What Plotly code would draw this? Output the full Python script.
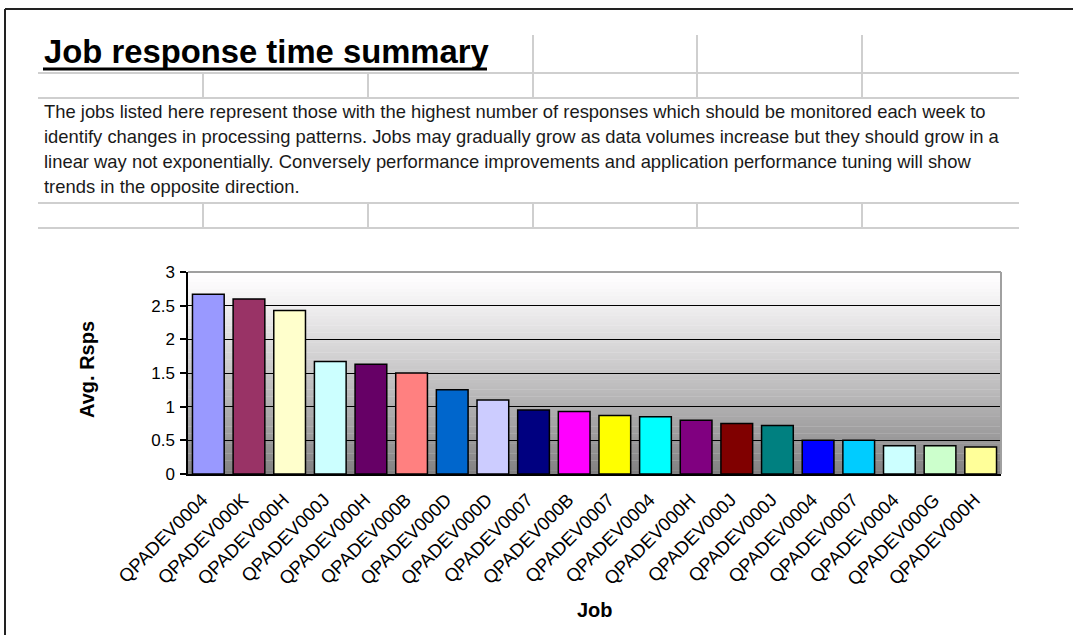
import plotly.graph_objects as go

# ---- data ----
jobs = ["QPADEV0004", "QPADEV000K", "QPADEV000H", "QPADEV000J", "QPADEV000H",
        "QPADEV000B", "QPADEV000D", "QPADEV000D", "QPADEV0007", "QPADEV000B",
        "QPADEV0007", "QPADEV0004", "QPADEV000H", "QPADEV000J", "QPADEV000J",
        "QPADEV0004", "QPADEV0007", "QPADEV0004", "QPADEV000G", "QPADEV000H"]
avg_rsps = [2.67, 2.60, 2.43, 1.67, 1.63, 1.50, 1.25, 1.10, 0.95, 0.93,
            0.87, 0.85, 0.80, 0.75, 0.72, 0.50, 0.50, 0.42, 0.42, 0.40]
bar_colors = ["#9999FF", "#993366", "#FFFFCC", "#CCFFFF", "#660066",
              "#FF8080", "#0066CC", "#CCCCFF", "#000080", "#FF00FF",
              "#FFFF00", "#00FFFF", "#800080", "#800000", "#008080",
              "#0000FF", "#00CCFF", "#CCFFFF", "#CCFFCC", "#FFFF99"]
y_ticks = [0, 0.5, 1, 1.5, 2, 2.5, 3]
y_tick_labels = ["0", "0.5", "1", "1.5", "2", "2.5", "3"]

title_text = "Job response time summary"
paragraph_lines = [
    "The jobs listed here represent those with the highest number of responses which should be monitored each week to",
    "identify changes in processing patterns. Jobs may gradually grow as data volumes increase but they should grow in a",
    "linear way not exponentially. Conversely performance improvements and application performance tuning will show",
    "trends in the opposite direction.",
]

# ---- layout geometry (pixels) ----
W, H = 1073, 635
L, R, T, B = 188, 1001, 272, 474
PW, PH = R - L, B - T


def px(x):
    return (x - L) / PW


def py(y):
    return (B - y) / PH


FONT = "Liberation Sans, Arial, sans-serif"
xs = list(range(len(jobs)))

fig = go.Figure()
fig.add_trace(go.Bar(
    x=xs, y=avg_rsps,
    marker=dict(color=bar_colors, line=dict(color="black", width=1.5)),
    width=0.78, showlegend=False, hoverinfo="x+y",
))

shapes = []
# gradient plot background
n = 60
for i in range(n):
    f0, f1 = i / n, (i + 1) / n
    t = (f0 + f1) / 2
    g = int(round(255 - 127 * (1 - t) ** 1.15))
    col = f"rgb({min(255, g + 1)},{g},{min(255, g + 1)})"
    shapes.append(dict(type="rect", xref="x domain", yref="y domain",
                       x0=0, x1=1, y0=f0, y1=f1 + 0.002, line=dict(width=0),
                       fillcolor=col, layer="below"))
# gray top/right plot border
shapes.append(dict(type="line", xref="x domain", yref="y domain", x0=0, x1=1, y0=1, y1=1,
                   line=dict(color="#a0a0a0", width=2), layer="above"))
shapes.append(dict(type="line", xref="x domain", yref="y domain", x0=1, x1=1, y0=0, y1=1,
                   line=dict(color="#a0a0a0", width=2), layer="above"))

# spreadsheet cell grid
gc = "#cfcfcf"
for yy in [73, 98, 203, 228]:
    shapes.append(dict(type="line", xref="paper", yref="paper", x0=px(38), x1=px(1019),
                       y0=py(yy), y1=py(yy), line=dict(color=gc, width=2)))
for xx in [533, 697, 862]:
    shapes.append(dict(type="line", xref="paper", yref="paper", x0=px(xx), x1=px(xx),
                       y0=py(35), y1=py(98), line=dict(color=gc, width=2)))
for xx in [203, 368]:
    shapes.append(dict(type="line", xref="paper", yref="paper", x0=px(xx), x1=px(xx),
                       y0=py(73), y1=py(98), line=dict(color=gc, width=2)))
for xx in [203, 368, 533, 697, 862]:
    shapes.append(dict(type="line", xref="paper", yref="paper", x0=px(xx), x1=px(xx),
                       y0=py(203), y1=py(228), line=dict(color=gc, width=2)))
# outer page border
shapes.append(dict(type="line", xref="paper", yref="paper", x0=px(5), x1=px(1073),
                   y0=py(9), y1=py(9), line=dict(color="#222", width=2)))
shapes.append(dict(type="line", xref="paper", yref="paper", x0=px(5), x1=px(5),
                   y0=py(9), y1=py(640), line=dict(color="#222", width=2)))
# title underline
shapes.append(dict(type="line", xref="paper", yref="paper", x0=px(43), x1=px(487),
                   y0=py(69), y1=py(69), line=dict(color="black", width=3)))

annotations = [
    dict(text="<b>" + title_text + "</b>", xref="paper", yref="paper",
         x=px(42), y=py(52), xanchor="left", yanchor="middle", showarrow=False,
         font=dict(family=FONT, size=32.8, color="black")),
    dict(text="<b>Avg. Rsps</b>", xref="paper", yref="paper", x=px(87), y=py(370),
         xanchor="center", yanchor="middle", textangle=-90, showarrow=False,
         font=dict(family=FONT, size=20, color="black")),
    dict(text="<b>Job</b>", xref="paper", yref="paper", x=px(595), y=py(610),
         xanchor="center", yanchor="middle", showarrow=False,
         font=dict(family=FONT, size=20, color="black")),
]
for i, line in enumerate(paragraph_lines):
    annotations.append(dict(text=line, xref="paper", yref="paper", x=px(42), y=py(111 + 25 * i),
                            xanchor="left", yanchor="middle", showarrow=False,
                            font=dict(family=FONT, size=18.4, color="#1a1a1a")))

fig.update_layout(
    width=W, height=H,
    margin=dict(l=L, r=W - R, t=T, b=H - B, pad=0),
    paper_bgcolor="white", plot_bgcolor="white",
    font=dict(family=FONT, color="black"),
    shapes=shapes, annotations=annotations,
    bargap=0.22,
    xaxis=dict(range=[-0.5, len(jobs) - 0.5], tickmode="array", tickvals=xs, ticktext=jobs,
               tickangle=-45, ticks="", showgrid=False, showline=True, linecolor="black",
               linewidth=1.5, tickfont=dict(family=FONT, size=18.5, color="black"),
               ticklabelstandoff=6, ticklabelshift=-6,
               zeroline=False, fixedrange=True),
    xaxis2=dict(range=[-0.5, len(jobs) - 0.5], overlaying="x", anchor="y", side="bottom",
                tickmode="array", tickvals=[i - 0.5 for i in range(len(jobs) + 1)],
                ticks="outside", ticklen=6, tickwidth=1.5, tickcolor="black",
                showticklabels=False, showgrid=False, showline=False, zeroline=False),
    yaxis=dict(range=[0, 3], tickmode="array", tickvals=y_ticks, ticktext=y_tick_labels,
               ticks="outside", ticklen=6, tickwidth=1.5, tickcolor="black",
               showgrid=True, gridcolor="black", gridwidth=1.3,
               showline=True, linecolor="black", linewidth=1.5, zeroline=False,
               tickfont=dict(family=FONT, size=17, color="black"), ticklabelstandoff=2),
)

fig.write_html("out.html", config={"displayModeBar": False},
               post_script="document.body.style.margin='0';")
